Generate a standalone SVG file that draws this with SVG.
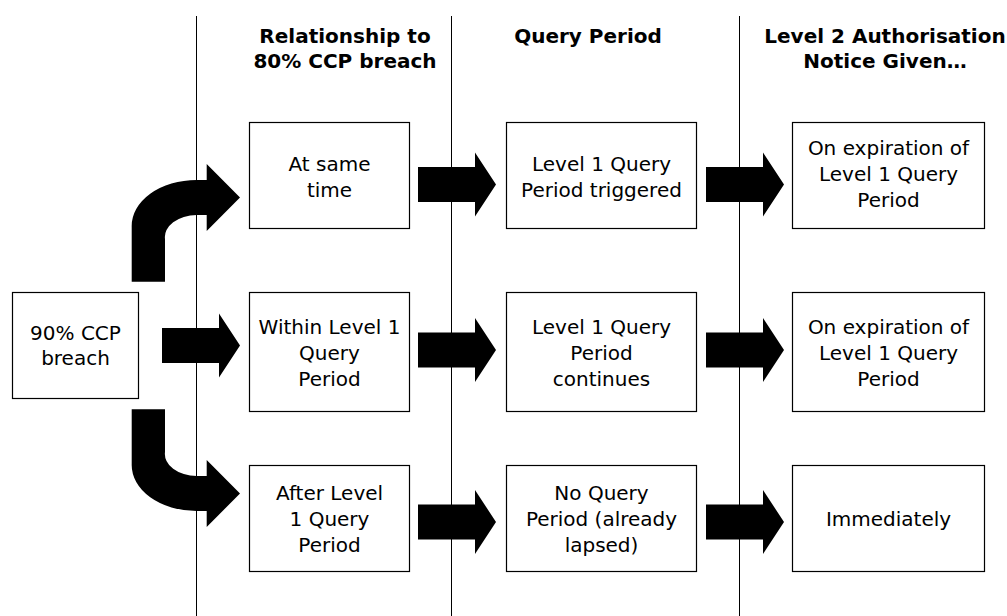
<svg xmlns="http://www.w3.org/2000/svg" width="1007" height="616" viewBox="0 0 1007 616">
  <style>
    .bg { fill: #ffffff; }
    .divider { stroke: #000000; stroke-width: 1; fill: none; }
    .box { fill: #ffffff; stroke: #000000; stroke-width: 1.2; }
    .hdr { font-family: "DejaVu Sans", Verdana, sans-serif; font-size: 20px; font-weight: bold; fill: #000000; text-anchor: middle; }
    .lbl { font-family: "DejaVu Sans", Verdana, sans-serif; font-size: 20px; fill: #000000; text-anchor: middle; }
    .arrow { fill: #000000; stroke: none; }
  </style>
  <defs>
    <path id="block-arrow" d="M0,-17.5 H57 V-32 L78,0 L57,32 V17.5 H0 Z"/>
  </defs>

  <rect class="bg" x="0" y="0" width="1007" height="616"/>

  <g id="dividers">
    <line class="divider" x1="196.5" y1="16" x2="196.5" y2="616"/>
    <line class="divider" x1="451.5" y1="16" x2="451.5" y2="616"/>
    <line class="divider" x1="739.5" y1="16" x2="739.5" y2="616"/>
  </g>

  <g id="headers">
    <text class="hdr" x="345" y="43">Relationship to</text>
    <text class="hdr" x="345" y="68">80% CCP breach</text>
    <text class="hdr" x="588" y="43">Query Period</text>
    <text class="hdr" x="885" y="43">Level 2 Authorisation</text>
    <text class="hdr" x="885" y="68">Notice Given…</text>
  </g>

  <g id="connectors">
    <path class="arrow" d="M131.7,281.7 V227 A65,46 0 0 1 196.7,180 H206.7 V164 L240,197.5 L206.7,231 V215 H196.7 A32,22 0 0 0 165,239 V281.7 Z"/>
    <path class="arrow" d="M131.7,409.3 H165 V452 A32,22 0 0 0 196.7,476 H206.7 V460 L240,493.5 L206.7,527 V511 H196.7 A65,46 0 0 1 131.7,464 Z"/>
    <use class="arrow" href="#block-arrow" x="162" y="345.5"/>
    <use class="arrow" href="#block-arrow" x="418" y="184.5"/>
    <use class="arrow" href="#block-arrow" x="706" y="184.5"/>
    <use class="arrow" href="#block-arrow" x="418" y="350"/>
    <use class="arrow" href="#block-arrow" x="706" y="350"/>
    <use class="arrow" href="#block-arrow" x="418" y="522"/>
    <use class="arrow" href="#block-arrow" x="706" y="522"/>
  </g>

  <g id="node-ccp90">
    <rect class="box" x="12.5" y="292.5" width="126" height="106"/>
    <text class="lbl" x="75.5" y="340">90% CCP</text>
    <text class="lbl" x="75.5" y="365">breach</text>
  </g>

  <g id="node-same-time">
    <rect class="box" x="249.5" y="122.5" width="160" height="106"/>
    <text class="lbl" x="329.5" y="171">At same</text>
    <text class="lbl" x="329.5" y="197">time</text>
  </g>
  <g id="node-within">
    <rect class="box" x="249.5" y="292.5" width="160" height="119"/>
    <text class="lbl" x="329.5" y="333.5">Within Level 1</text>
    <text class="lbl" x="329.5" y="359.5">Query</text>
    <text class="lbl" x="329.5" y="385.5">Period</text>
  </g>
  <g id="node-after">
    <rect class="box" x="249.5" y="465.5" width="160" height="106"/>
    <text class="lbl" x="329.5" y="500">After Level</text>
    <text class="lbl" x="329.5" y="526">1 Query</text>
    <text class="lbl" x="329.5" y="552">Period</text>
  </g>

  <g id="node-triggered">
    <rect class="box" x="506.5" y="122.5" width="190" height="106"/>
    <text class="lbl" x="601.5" y="171">Level 1 Query</text>
    <text class="lbl" x="601.5" y="197">Period triggered</text>
  </g>
  <g id="node-continues">
    <rect class="box" x="506.5" y="292.5" width="190" height="119"/>
    <text class="lbl" x="601.5" y="333.5">Level 1 Query</text>
    <text class="lbl" x="601.5" y="359.5">Period</text>
    <text class="lbl" x="601.5" y="385.5">continues</text>
  </g>
  <g id="node-no-query">
    <rect class="box" x="506.5" y="465.5" width="190" height="106"/>
    <text class="lbl" x="601.5" y="500">No Query</text>
    <text class="lbl" x="601.5" y="526">Period (already</text>
    <text class="lbl" x="601.5" y="552">lapsed)</text>
  </g>

  <g id="node-expiry-1">
    <rect class="box" x="792.5" y="122.5" width="192" height="106"/>
    <text class="lbl" x="888.5" y="155">On expiration of</text>
    <text class="lbl" x="888.5" y="181">Level 1 Query</text>
    <text class="lbl" x="888.5" y="207">Period</text>
  </g>
  <g id="node-expiry-2">
    <rect class="box" x="792.5" y="292.5" width="192" height="119"/>
    <text class="lbl" x="888.5" y="333.5">On expiration of</text>
    <text class="lbl" x="888.5" y="359.5">Level 1 Query</text>
    <text class="lbl" x="888.5" y="385.5">Period</text>
  </g>
  <g id="node-immediately">
    <rect class="box" x="792.5" y="465.5" width="192" height="106"/>
    <text class="lbl" x="888.5" y="526">Immediately</text>
  </g>
</svg>
